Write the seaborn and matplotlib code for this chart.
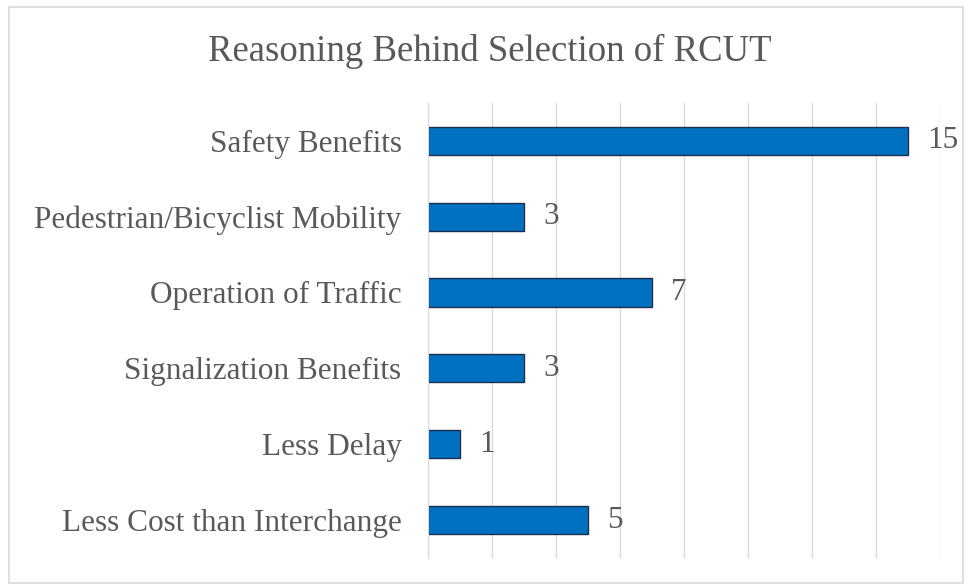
import matplotlib
matplotlib.use("Agg")
import matplotlib.pyplot as plt
import pandas as pd
import seaborn as sns
from matplotlib.patches import Rectangle

# data
reasons = ['Safety Benefits', 'Pedestrian/Bicyclist Mobility', 'Operation of Traffic',
           'Signalization Benefits', 'Less Delay', 'Less Cost than Interchange']
counts = [15, 3, 7, 3, 1, 5]
x_ticks = [0, 2, 4, 6, 8, 10, 12, 14, 16]

df = pd.DataFrame({'Reason': reasons, 'Count': counts})

sns.set_style('white')
plt.rcParams['font.family'] = ['Liberation Serif', 'DejaVu Serif']
text_color = '#595959'

fig = plt.figure(figsize=(9.69, 5.85), dpi=100)
ax = fig.add_axes([0.4417, 0.0462, 0.5285, 0.778])

sns.barplot(data=df, x='Count', y='Reason', order=reasons, orient='h',
            color='#0070C0', saturation=1, width=0.37,
            edgecolor='#1F2F4F', linewidth=1.0, ax=ax)

ax.set_xlim(0, 16)
ax.set_ylim(len(reasons) - 0.5, -0.5)
ax.set_xticks(x_ticks)
ax.set_xticklabels([])
ax.grid(axis='x', color='#d9d9d9', linewidth=1.0)
ax.set_axisbelow(True)
for s in ['top', 'right', 'bottom']:
    ax.spines[s].set_visible(False)
ax.spines['left'].set_color('#d9d9d9')
ax.tick_params(axis='both', length=0)
ax.tick_params(axis='y', labelsize=22.5, colors=text_color, pad=19)
ax.set_xlabel('')
ax.set_ylabel('')

for i, v in enumerate(counts):
    ax.text(v + 0.6, i, str(v), va='center', ha='left', fontsize=22.5, color=text_color)

fig.text(0.505, 0.912, 'Reasoning Behind Selection of RCUT', ha='center', va='center',
         fontsize=26.5, color=text_color)

# light border around the chart area
fig.patches.append(Rectangle((0.009, 0.004), 0.985, 0.984, transform=fig.transFigure,
                             fill=False, edgecolor='#d9d9d9', linewidth=1.2))

fig.savefig('out.png', dpi=100)
